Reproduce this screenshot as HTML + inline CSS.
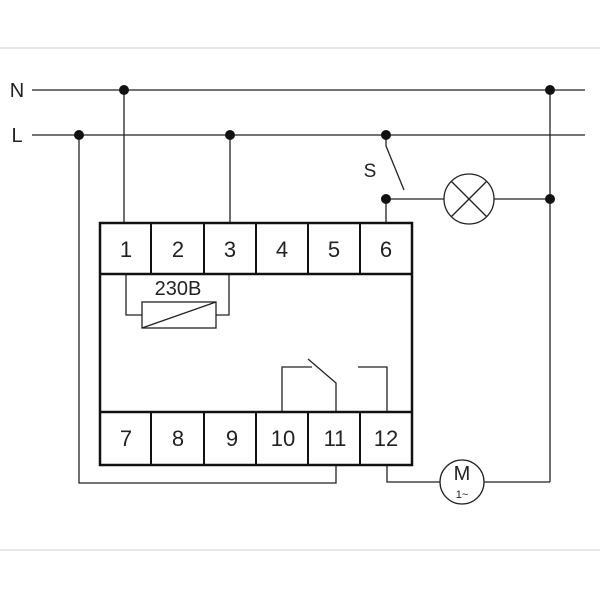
<!DOCTYPE html>
<html><head><style>body{margin:0;background:#fff}</style></head><body>
<svg width="600" height="600" viewBox="0 0 600 600" xmlns="http://www.w3.org/2000/svg" font-family="DejaVu Sans, Liberation Sans, sans-serif">
<line x1="0" y1="48" x2="600" y2="48" stroke="#ccc" stroke-width="1"/>
<line x1="0" y1="550" x2="600" y2="550" stroke="#ccc" stroke-width="1"/>
<g stroke="#222" stroke-width="1.3" fill="none">
<line x1="32" y1="90" x2="585" y2="90"/>
<line x1="32" y1="135" x2="585" y2="135"/>
<line x1="124" y1="90" x2="124" y2="222"/>
<line x1="230" y1="135" x2="230" y2="222"/>
<polyline points="79,135 79,483 336,483 336,465"/>
<polyline points="386,135 386,146 404,190"/>
<line x1="386" y1="199" x2="386" y2="222"/>
<line x1="386" y1="199" x2="444" y2="199"/>
<line x1="494" y1="199" x2="550" y2="199"/>
<line x1="550" y1="90" x2="550" y2="482"/>
<circle cx="469" cy="199" r="25"/>
<line x1="451" y1="181" x2="487" y2="217"/>
<line x1="487" y1="181" x2="451" y2="217"/>
<polyline points="387,465 387,482 440,482"/>
<line x1="484" y1="482" x2="550" y2="482"/>
<circle cx="462" cy="482" r="22"/>
<polyline points="126,274 126,315 142,315"/>
<polyline points="229,274 229,315 216,315"/>
<rect x="142" y="302" width="74" height="26"/>
<line x1="142" y1="328" x2="216" y2="302"/>
<polyline points="282,412 282,367 312,367"/>
<polyline points="308,359 336,383 336,412"/>
<polyline points="387,412 387,367 358,367"/>
</g>
<g stroke="#111" stroke-width="2.5" fill="none">
<rect x="100" y="223" width="312" height="242"/>
<line x1="100" y1="274" x2="412" y2="274"/>
<line x1="100" y1="412" x2="412" y2="412"/>
<g stroke-width="2">
<line x1="151" y1="223" x2="151" y2="274"/><line x1="204" y1="223" x2="204" y2="274"/><line x1="256" y1="223" x2="256" y2="274"/><line x1="308" y1="223" x2="308" y2="274"/><line x1="360" y1="223" x2="360" y2="274"/>
<line x1="151" y1="412" x2="151" y2="465"/><line x1="204" y1="412" x2="204" y2="465"/><line x1="256" y1="412" x2="256" y2="465"/><line x1="308" y1="412" x2="308" y2="465"/><line x1="360" y1="412" x2="360" y2="465"/>
</g>
</g>
<g fill="#222" font-size="22" text-anchor="middle" font-family="Liberation Sans, sans-serif">
<text x="126" y="257">1</text><text x="178" y="257">2</text><text x="230" y="257">3</text><text x="282" y="257">4</text><text x="334" y="257">5</text><text x="386" y="257">6</text>
<text x="126" y="446">7</text><text x="178" y="446">8</text><text x="232" y="446">9</text><text x="283" y="446">10</text><text x="335" y="446">11</text><text x="386" y="446">12</text>
<text x="178" y="295" font-size="20">230В</text>
<text x="462" y="480" font-size="20">M</text>
<text x="462" y="498" font-size="11">1~</text>
<text x="17" y="97" font-size="20">N</text>
<text x="17" y="142" font-size="20">L</text>
<text x="370" y="177" font-size="19">S</text>
</g>
<g fill="#111">
<circle cx="124" cy="90" r="5"/><circle cx="550" cy="90" r="5"/>
<circle cx="79" cy="135" r="5"/><circle cx="230" cy="135" r="5"/><circle cx="386" cy="135" r="5"/>
<circle cx="386" cy="199" r="5"/><circle cx="550" cy="199" r="5"/>
</g>
</svg>
</body></html>
